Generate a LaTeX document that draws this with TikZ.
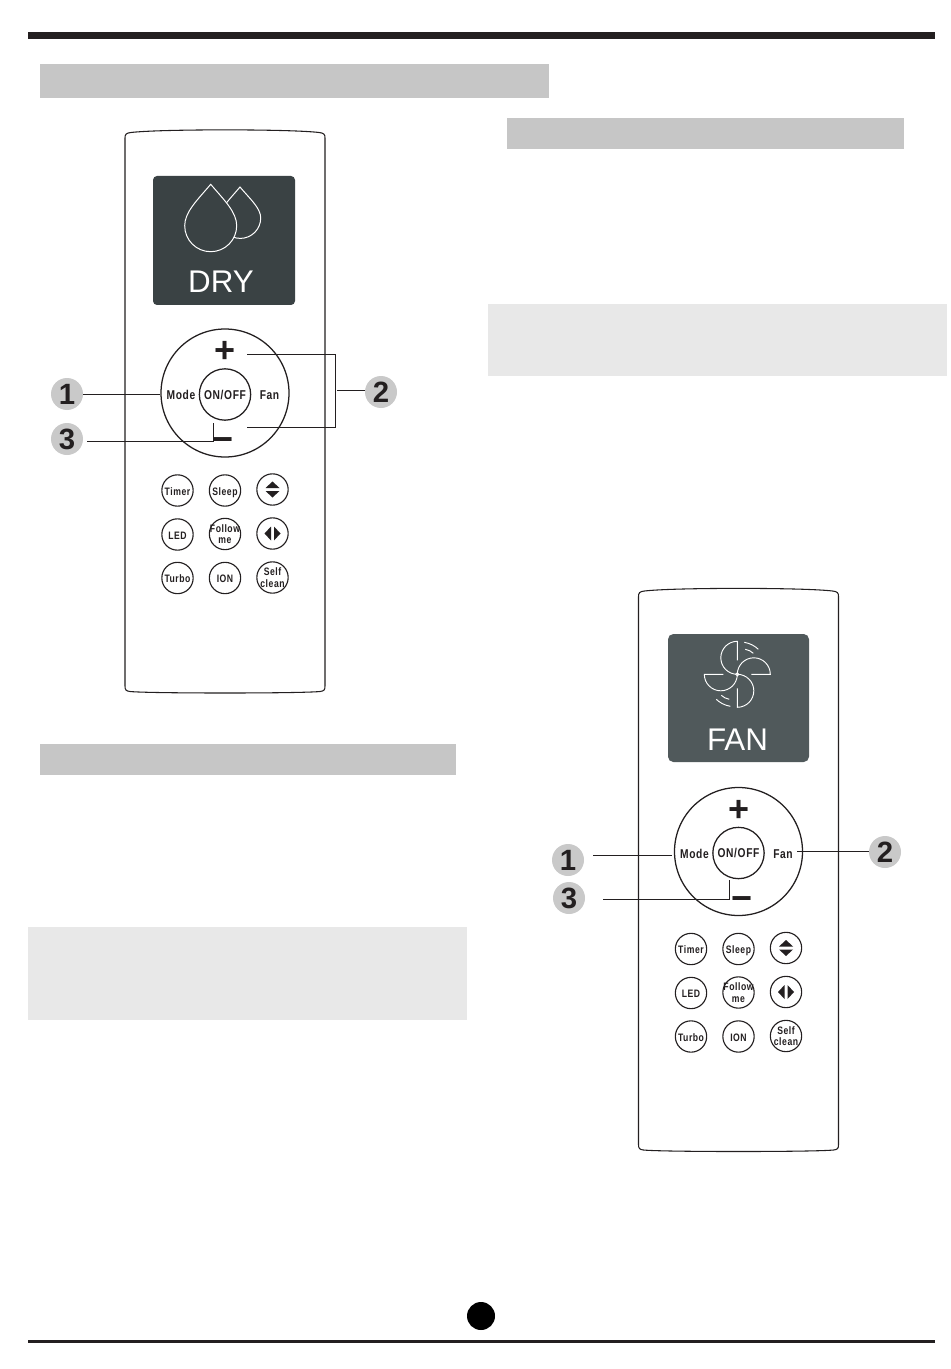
\documentclass[tikz,border=0pt]{standalone}
\usepackage{fontspec}
\setmainfont{Liberation Sans}
\newfontfamily\remfont[FakeStretch=0.8,LetterSpace=5]{Liberation Sans}
\definecolor{barg}{HTML}{C6C6C6}
\definecolor{lightg}{HTML}{E8E8E8}
\definecolor{badgeg}{HTML}{C9C9C9}
\definecolor{ink}{HTML}{231F20}
\definecolor{scrL}{HTML}{3A4244}
\definecolor{scrR}{HTML}{50595B}
\tikzset{
  x=0.75pt,y=-0.75pt,
  outline/.style={draw=ink,line width=0.8pt},
  lbl/.style={font=\remfont\bfseries\fontsize{9.6}{10}\selectfont,text=ink,inner sep=0pt},
  capline/.style={text height=7pt,text depth=0pt},
  btn/.style={circle,draw=ink,line width=0.85pt,minimum size=23.5pt,inner sep=-6pt,align=center,
     font=\remfont\bfseries\fontsize{8.1}{8.6}\selectfont,text=ink},
  bignum/.style={circle,fill=badgeg,minimum size=24pt,inner sep=0pt,text=ink,font=\bfseries\fontsize{22}{22}\selectfont},
  sym/.style={inner sep=0pt,text=ink,font=\bfseries\fontsize{27}{27}\selectfont},
  scrtext/.style={inner sep=0pt,text=white,font=\fontsize{23.5}{24}\selectfont},
  leader/.style={draw=ink,line width=0.7pt},
}
\newcommand{\remotebody}[4]{% prefix, dx, dy, minus x
\begin{scope}[shift={(#2,#3)},name prefix=#1-]
  \draw[outline] (125,138) .. controls (125,134.5) and (126,133) .. (131,132.5)
     .. controls (160,129) and (290,129) .. (319,132.5)
     .. controls (324,133) and (325,134.5) .. (325,138)
     -- (325,686) .. controls (325,690) and (324,691) .. (320,691.5)
     .. controls (300,693.5) and (150,693.5) .. (130,691.5)
     .. controls (126,691) and (125,690) .. (125,686) -- cycle;
  \node[circle,draw=ink,line width=0.95pt,minimum size=96pt,inner sep=0pt] (ring) at (225,393) {};
  \node[circle,draw=ink,line width=0.95pt,minimum size=38.5pt,lbl,inner sep=-6pt,capline] (onoff) at (225,394.5) {ON/OFF};
  \node[lbl,capline] (mode) at (181,395) {Mode};
  \node[lbl,capline] (fan) at (269.5,395) {Fan};
  \node[sym] (plus) at (225,352) {+};
  \node[sym] (minus) at (#4,445) {−};
  \node[btn,capline] (timer) at (177.5,490.5) {Timer};
  \node[btn,capline] (sleep) at (225,490.5) {Sleep};
  \node[btn] (updown) at (272.5,489.5) {};
  \node[btn,capline] (led) at (177.5,534.5) {LED};
  \node[btn] (follow) at (225,534) {Follow\\me};
  \node[btn] (leftright) at (272.5,533.5) {};
  \node[btn,capline] (turbo) at (177.5,578) {Turbo};
  \node[btn,capline] (ion) at (225,578) {ION};
  \node[btn] (selfclean) at (272.5,577.5) {Self\\clean};
  \fill[ink] (272.5,481.5) -- (279.5,488) -- (265.5,488) -- cycle;
  \fill[ink] (272.5,497.5) -- (279.5,491) -- (265.5,491) -- cycle;
  \fill[ink] (264.5,533.5) -- (271,526.5) -- (271,540.5) -- cycle;
  \fill[ink] (280.5,533.5) -- (274,526.5) -- (274,540.5) -- cycle;
\end{scope}}
\begin{document}
\begin{tikzpicture}
\useasboundingbox (0,0) rectangle (950,1369);
\fill[white] (0,0) rectangle (950,1369);
% page furniture
\fill[ink] (28,32) rectangle (935,39);
\fill[barg] (40,64) rectangle (549,98);
\fill[barg] (507,118) rectangle (904,149);
\fill[barg] (40,744) rectangle (456,775);
\fill[lightg] (488,304) rectangle (947,376);
\fill[lightg] (28,927) rectangle (467,1020);
\fill[ink] (28,1340) rectangle (935,1342.5);
\fill[black] (481,1316) circle[radius=14];
% remotes
\remotebody{L}{0}{0}{223}
\remotebody{R}{513.5}{458.5}{228.2}
% DRY screen
\fill[scrL,rounded corners=3pt] (153,176) rectangle (295,305);
\draw[white,line width=0.75pt,fill=scrL] (240,187) .. controls (250,199) and (260.7,208) .. (260.7,218)
  arc[start angle=0,end angle=180,radius=20.4] .. controls (219.9,208) and (230,199) .. (240,187) -- cycle;
\draw[white,line width=0.75pt,fill=scrL] (210.7,184.3) .. controls (224,200) and (236.7,212) .. (236.7,225.7)
  arc[start angle=0,end angle=180,radius=26] .. controls (184.7,212) and (197.4,200) .. (210.7,184.3) -- cycle;
\node[scrtext] (dry) at (221,282) {DRY};
% FAN screen
\fill[scrR,rounded corners=4pt] (668,634) rectangle (809,762);
\foreach \a in {0,90,180,270}{
 \begin{scope}[shift={(737.3,674.3)},rotate=\a]
  \draw[white,line width=0.7pt] (0,-14) -- (0,-33) arc[start angle=270,end angle=90,radius=16.5];
 \end{scope}}
\foreach \a in {0,180}{
 \begin{scope}[shift={(737.3,674.3)},rotate=\a]
  \draw[white,line width=0.7pt] (7,-32) .. controls (13,-31) and (18,-28) .. (21,-25);
  \draw[white,line width=0.7pt] (8,-25) .. controls (11,-24.5) and (14,-23) .. (16,-21);
 \end{scope}}
\draw[white,line width=0.6pt] (737.3,674.3) circle[radius=1.6];
\node[scrtext] (fanword) at (737.5,740) {FAN};
% number badges
\node[bignum] (a1) at (67,394) {1};
\node[bignum] (a2) at (381,392) {2};
\node[bignum] (a3) at (67,439) {3};
\node[bignum] (b1) at (568,860) {1};
\node[bignum] (b2) at (885,852) {2};
\node[bignum] (b3) at (569,898) {3};
% leaders left
\coordinate (a3s) at (87,441);
\coordinate (a3k) at (213,441);
\coordinate (a3e) at (213,423);
\coordinate (p1) at (247,354);
\coordinate (p2) at (335,354);
\coordinate (p3) at (335,427);
\coordinate (p4) at (247,427);
\coordinate (a2s) at (337,390);
\draw[leader] (a1.east) -- (a1.east -| L-ring.west);
\draw[leader] (a3s) -- (a3k) -- (a3e);
\draw[leader] (p1) -- (p2) -- (p3) -- (p4);
\draw[leader] (a2s) -- (a2s -| a2.west);
% leaders right
\coordinate (b1s) at (593,855);
\coordinate (b1e) at (672,855);
\coordinate (b3s) at (603,899.5);
\coordinate (b3k) at (729,899.5);
\coordinate (b3e) at (729,880);
\coordinate (b2s) at (797,851);
\draw[leader] (b1s) -- (b1e);
\draw[leader] (b3s) -- (b3k) -- (b3e);
\draw[leader] (b2s) -- (b2s -| b2.west);
\end{tikzpicture}
\end{document}
